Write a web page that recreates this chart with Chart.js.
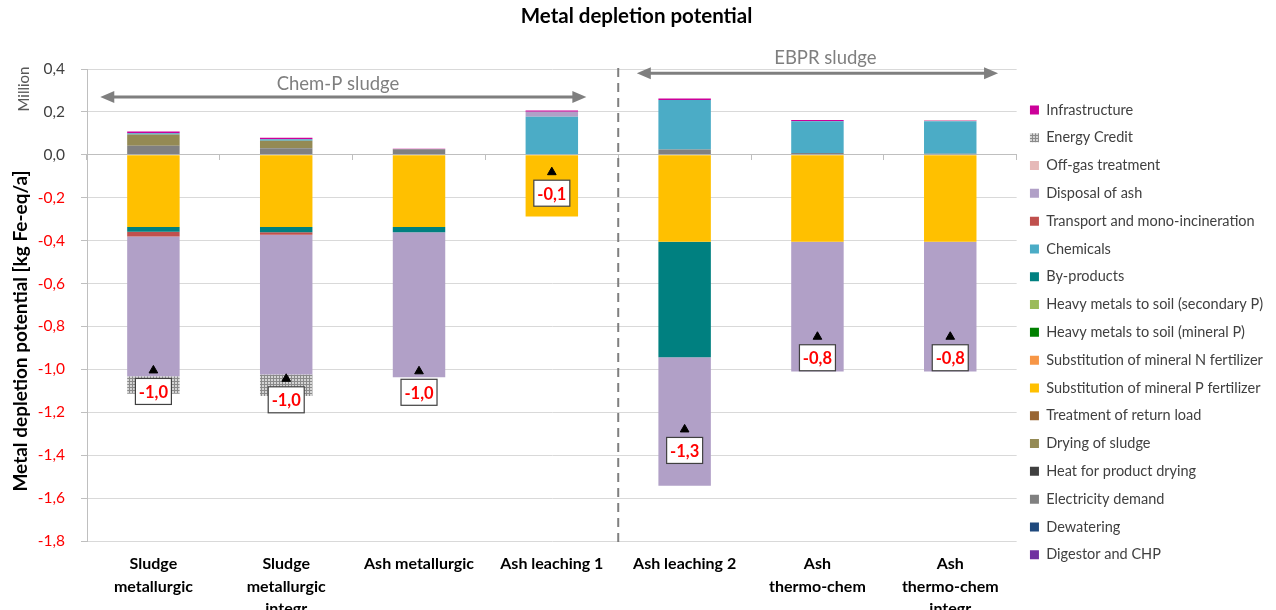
<!DOCTYPE html>
<html>
<head>
<meta charset="utf-8">
<title>Metal depletion potential</title>
<script src="https://cdn.jsdelivr.net/npm/chart.js@4.4.1/dist/chart.umd.min.js"></script>
<style>
  html, body { margin: 0; padding: 0; background: #fff; }
  #wrap { position: relative; width: 1276px; height: 610px; }
</style>
</head>
<body>
<div id="wrap"><canvas id="chart"></canvas></div>
<script>
// values in million kg Fe-eq/a
const categories = [
    ['Sludge', 'metallurgic'],
    ['Sludge', 'metallurgic', 'integr'],
    'Ash metallurgic',
    'Ash leaching 1',
    'Ash leaching 2',
    ['Ash', 'thermo-chem'],
    ['Ash', 'thermo-chem', 'integr']
];

const digestor       = [0, 0, 0, 0, 0, 0, 0];
const dewatering     = [0, 0, 0, 0, 0, 0, 0];
const electricity    = [0.042, 0.031, 0.026, 0, 0.025, 0.009, 0.005];
const heatDrying     = [0, 0, 0, 0, 0, 0, 0];
const dryingSludge   = [0.053, 0.034, 0, 0, 0, 0, 0];
const returnLoad     = [0, 0, 0, 0, 0, 0, 0];
const substP         = [-0.336, -0.336, -0.336, -0.288, -0.405, -0.405, -0.405];
const substN         = [0, 0, 0, 0, 0, 0, 0];
const hmMineral      = [0, 0, 0, 0, 0, 0, 0];
const hmSecondary    = [0, 0, 0, 0, 0, 0, 0];
const byProducts     = [-0.023, -0.025, -0.025, 0, -0.538, 0, 0];
const chemicals      = [0.006, 0.007, 0, 0.178, 0.231, 0.147, 0.152];
const transport      = [-0.022, -0.012, 0, 0, 0, 0, 0];
const disposalAsh    = [-0.651, -0.651, -0.676, 0.023, -0.599, -0.605, -0.605];
const offGas         = [0, 0, 0, 0, 0, 0, 0.003];
const energyCredit   = [-0.082, -0.100, 0, 0, 0, 0, 0];
const infrastructure = [0.008, 0.008, 0.002, 0.006, 0.006, 0.006, 0.002];

// net result per scenario (black triangles)
const netTotals = [-1.005, -1.044, -1.009, -0.081, -1.28, -0.848, -0.848];

const yTicksMin = -1.8;
const yTicksMax = 0.4;
const yTicksStep = 0.2;

Chart.defaults.font.family = 'Lato, "Open Sans", sans-serif';

function hatch() {
    const c = document.createElement('canvas');
    c.width = 3; c.height = 3;
    const g = c.getContext('2d');
    g.fillStyle = '#d4d4d4';
    g.fillRect(0, 0, 3, 3);
    g.fillStyle = '#8a8a8a';
    g.fillRect(0, 0, 3, 1);
    g.fillRect(0, 0, 1, 3);
    return g.createPattern(c, 'repeat');
}

const fmt = v => (Math.abs(v) < 1e-9 ? 0 : v).toFixed(1).replace('.', ',');

// stacking order: first one sits next to the zero line
const series = [
    ['Digestor and CHP', digestor, '#7030a0'],
    ['Dewatering', dewatering, '#1f497d'],
    ['Electricity demand', electricity, '#808080'],
    ['Heat for product drying', heatDrying, '#404040'],
    ['Drying of sludge', dryingSludge, '#948a54'],
    ['Treatment of return load', returnLoad, '#996633'],
    ['Substitution of mineral P fertilizer', substP, '#ffc000'],
    ['Substitution of mineral N fertilizer', substN, '#f79646'],
    ['Heavy metals to soil (mineral P)', hmMineral, '#008000'],
    ['Heavy metals to soil (secondary P)', hmSecondary, '#9bbb59'],
    ['By-products', byProducts, '#008080'],
    ['Chemicals', chemicals, '#4bacc6'],
    ['Transport and mono-incineration', transport, '#c0504d'],
    ['Disposal of ash', disposalAsh, '#b1a0c7'],
    ['Off-gas treatment', offGas, '#e6b9b8'],
    ['Energy Credit', energyCredit, hatch()],
    ['Infrastructure', infrastructure, '#cc0099']
];

const datasets = series.map(([label, data, color]) => ({
    label, data,
    backgroundColor: color,
    borderColor: color,
    borderWidth: 0,
    barPercentage: 0.395,
    categoryPercentage: 1
}));

datasets.push({
    type: 'line',
    label: 'Net',
    data: netTotals,
    stack: 'net',
    showLine: false,
    pointStyle: 'triangle',
    pointRadius: 5,
    pointBorderWidth: 1,
    pointBackgroundColor: '#000',
    pointBorderColor: '#000',
    order: -1
});
const NET = datasets.length - 1;

// dashed divider, group arrows and texts outside the library's own elements
const decorations = {
    id: 'decorations',
    beforeDatasetsDraw(chart) {
        const {ctx, chartArea, scales: {x}} = chart;
        const xd = x.getPixelForValue(3.5);
        ctx.save();
        ctx.strokeStyle = '#7f7f7f';
        ctx.lineWidth = 2;
        ctx.setLineDash([9, 6]);
        ctx.beginPath();
        ctx.moveTo(xd, chartArea.top - 1);
        ctx.lineTo(xd, chartArea.bottom + 4);
        ctx.stroke();
        ctx.restore();
    },
    afterDraw(chart) {
        const {ctx, scales: {x, y}} = chart;
        const arrow = (from, to, yv) => {
            const x1 = x.getPixelForValue(from), x2 = x.getPixelForValue(to), yy = y.getPixelForValue(yv);
            ctx.beginPath();
            ctx.moveTo(x1 + 10, yy);
            ctx.lineTo(x2 - 10, yy);
            ctx.stroke();
            ctx.beginPath();
            ctx.moveTo(x1, yy); ctx.lineTo(x1 + 14, yy - 6); ctx.lineTo(x1 + 14, yy + 6); ctx.closePath();
            ctx.moveTo(x2, yy); ctx.lineTo(x2 - 14, yy - 6); ctx.lineTo(x2 - 14, yy + 6); ctx.closePath();
            ctx.fill();
        };
        ctx.save();
        ctx.strokeStyle = '#7f7f7f';
        ctx.fillStyle = '#7f7f7f';
        ctx.lineWidth = 3;
        arrow(-0.40, 3.26, 0.27);
        arrow(3.64, 6.36, 0.38);
        ctx.font = '18.5px Lato';
        ctx.textAlign = 'center';
        ctx.textBaseline = 'middle';
        ctx.fillText('Chem-P sludge', x.getPixelForValue(1.39), y.getPixelForValue(0.33));
        ctx.fillText('EBPR sludge', x.getPixelForValue(5.06), y.getPixelForValue(0.45));

        // axis title and unit
        ctx.translate(21, 331);
        ctx.rotate(-Math.PI / 2);
        ctx.fillStyle = '#000';
        ctx.font = 'bold 19px Lato';
        ctx.fillText('Metal depletion potential [kg Fe-eq/a]', 0, 0);
        ctx.fillStyle = '#595959';
        ctx.font = '15px Lato';
        ctx.fillText('Million', 331 - 89, 3);
        ctx.restore();
    }
};

// boxed net value under each triangle
const netLabels = {
    id: 'netLabels',
    afterDatasetsDraw(chart) {
        const {ctx} = chart;
        const meta = chart.getDatasetMeta(NET);
        ctx.save();
        ctx.font = 'bold 16.5px Lato';
        ctx.textAlign = 'center';
        ctx.textBaseline = 'middle';
        meta.data.forEach((pt, i) => {
            const cx = pt.x, cy = pt.y + 21;
            ctx.fillStyle = '#fff';
            ctx.fillRect(cx - 18, cy - 13, 36, 26);
            ctx.strokeStyle = '#404040';
            ctx.lineWidth = 1.2;
            ctx.strokeRect(cx - 18, cy - 13, 36, 26);
            ctx.fillStyle = '#ff0000';
            ctx.fillText(fmt(netTotals[i]), cx, cy + 1);
        });
        ctx.restore();
    }
};

new Chart(document.getElementById('chart'), {
    type: 'bar',
    data: { labels: categories, datasets },
    options: {
        responsive: true,
        maintainAspectRatio: false,
        animation: false,
        layout: { padding: { right: 3 } },
        plugins: {
            tooltip: { enabled: false },
            title: {
                display: true,
                text: 'Metal depletion potential',
                color: '#000',
                font: { size: 20.5, weight: 'bold' },
                padding: { top: 4, bottom: 40.4 }
            },
            legend: {
                position: 'right',
                align: 'start',
                reverse: true,
                title: { display: true, text: '', padding: { top: 75, bottom: 0 } },
                labels: {
                    boxWidth: 9,
                    boxHeight: 9,
                    padding: 13.3,
                    color: '#404040',
                    font: { size: 14.5 },
                    filter: item => item.datasetIndex !== NET
                }
            }
        },
        scales: {
            x: {
                stacked: true,
                grid: { display: false, drawTicks: false },
                border: { display: false },
                ticks: {
                    color: '#000',
                    font: { size: 16, weight: 'bold', lineHeight: 1.4 },
                    padding: 12,
                    maxRotation: 0,
                    autoSkip: false
                },
                afterFit: s => { s.height = 69; }
            },
            x2: {
                axis: 'x',
                type: 'category',
                position: { y: 0 },
                offset: true,
                grid: { drawOnChartArea: false, offset: true, tickLength: 5, color: '#bfbfbf' },
                border: { color: '#bfbfbf' },
                ticks: { display: false }
            },
            y: {
                stacked: true,
                min: yTicksMin,
                max: yTicksMax,
                grid: { color: '#d9d9d9', tickLength: 6, tickColor: '#bfbfbf' },
                border: { color: '#bfbfbf' },
                ticks: {
                    stepSize: yTicksStep,
                    padding: 16,
                    font: { size: 15.5 },
                    color: c => c.tick.value < -1e-9 ? '#ff0000' : '#404040',
                    callback: v => fmt(v)
                },
                afterFit: s => { s.width = 87; }
            }
        }
    },
    plugins: [decorations, netLabels]
});
</script>
</body>
</html>
